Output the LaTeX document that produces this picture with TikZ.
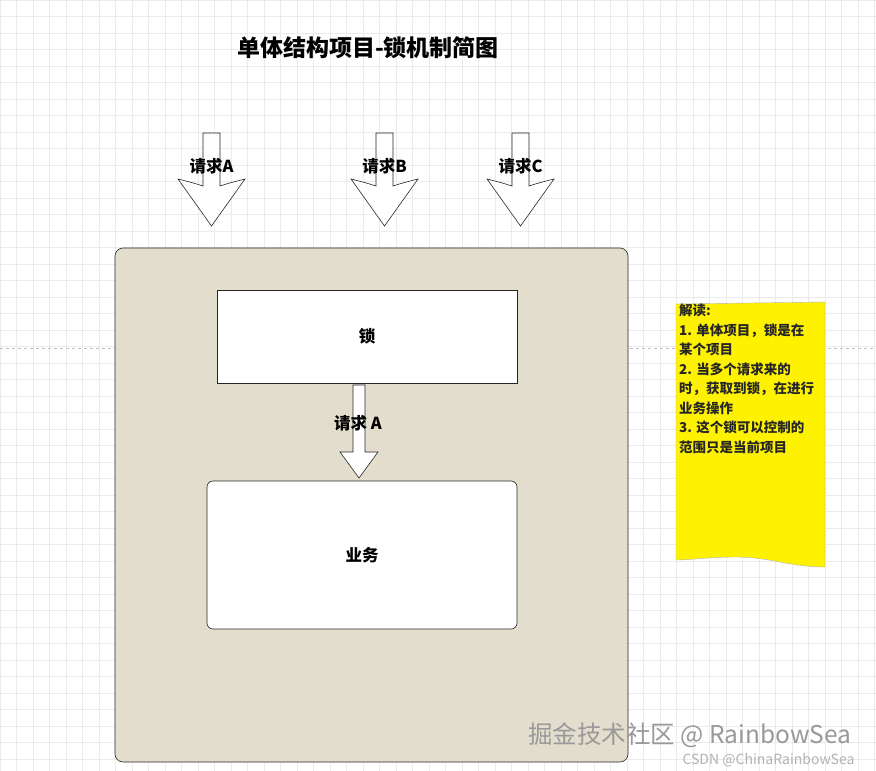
\documentclass[tikz,border=0pt]{standalone}
\usepackage{fontspec}
\setmainfont{Noto Sans CJK SC}
\newfontfamily\cjk{Noto Sans CJK SC}
\begin{document}
\begin{tikzpicture}[x=1pt,y=-1pt,
  box/.style={draw=black!85,line width=0.6pt},
  lbl/.style={font=\cjk\bfseries\fontsize{16.5}{18}\selectfont,inner sep=0pt},
  blk/.style={draw=black!85,fill=white,line width=0.6pt}]
\useasboundingbox (0,0) rectangle (876,771);
\fill[white] (0,0) rectangle (876,771);
\foreach \i in {0,...,55} {\draw[black!8,line width=0.4pt] (\i*16.5,0) -- (\i*16.5,771);}
\foreach \i in {0,...,47} {\draw[black!8,line width=0.4pt] (0,\i*16.5) -- (876,\i*16.5);}
\draw[black!25,dashed,line width=0.4pt] (0,348) -- (876,348);
\node[font=\cjk\bfseries\fontsize{23}{26}\selectfont] (title) at (368,48) {单体结构项目-锁机制简图};
\foreach \n/\c in {A/211.5,B/384.5,C/520.5}{
  \draw[blk] (\c-8.5,133) -- (\c+8.5,133) -- (\c+8.5,186) .. controls (\c+18,183) .. (\c+33.5,179) -- (\c,226) -- (\c-33.5,179) .. controls (\c-18,183) .. (\c-8.5,186) -- cycle;
  \node[lbl] (r\n) at (\c,166) {请求\n};
}
\draw[box,fill={rgb,255:red,227;green,221;blue,205},rounded corners=8] (115,248) rectangle (628,762);
\node[blk,minimum width=300,minimum height=93,lbl,inner sep=0pt] (lock) at (367,336.5) {锁};
\node[blk,rounded corners=6,minimum width=310,minimum height=148,lbl] (biz) at (362,555) {业务};
\draw[blk] (353,385) -- (365,385) -- (365,452) -- (378,452) -- (359,478) -- (340,452) -- (353,452) -- cycle;
\node[lbl] (rin) at (358,423) {请求 A};
\draw[black!30,fill=yellow,line width=0.4pt] (676,304) -- (825,302) -- (825,567) .. controls (790,567) and (770,557) .. (735,557) .. controls (710,557) and (690,560) .. (676,560) -- cycle;
\node[anchor=north west,align=left,inner sep=0pt,font=\cjk\bfseries\fontsize{13.5}{19.5}\selectfont,text=black!85] (note) at (679,304) {解读:\\1. 单体项目，锁是在\\某个项目\\2. 当多个请求来的\\时，获取到锁，在进行\\业务操作\\3. 这个锁可以控制的\\范围只是当前项目};
\node[text=black!40,font=\cjk\fontsize{24.5}{27}\selectfont,anchor=east] (wm) at (855,735) {掘金技术社区 @ RainbowSea};
\node[text=black!30,font=\cjk\fontsize{14}{16}\selectfont,anchor=east] (wm2) at (858,760) {CSDN @ChinaRainbowSea};
\end{tikzpicture}
\end{document}
